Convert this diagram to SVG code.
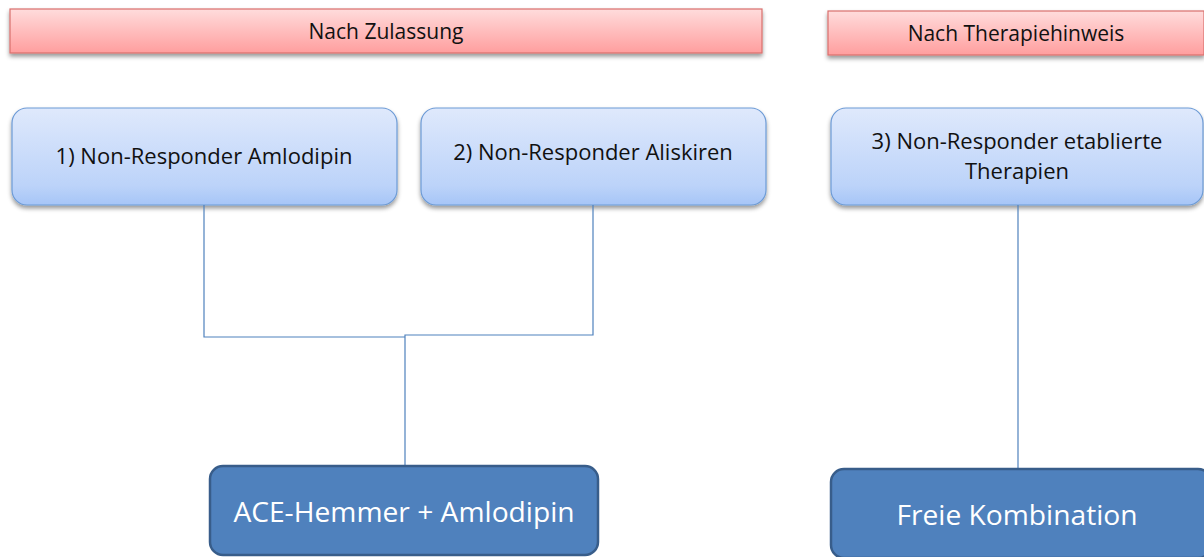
<svg xmlns="http://www.w3.org/2000/svg" width="1204" height="557" viewBox="0 0 1204 557">
<defs>
<linearGradient id="gRed" x1="0" y1="0" x2="0" y2="1">
<stop offset="0" stop-color="#ffdcdc"/>
<stop offset="1" stop-color="#ff9e9e"/>
</linearGradient>
<linearGradient id="gBlue" x1="0" y1="0" x2="0" y2="1">
<stop offset="0" stop-color="#dfe9fc"/>
<stop offset="0.8" stop-color="#bcd3f9"/>
<stop offset="1" stop-color="#a6c5f7"/>
</linearGradient>
<filter id="sh" x="-10%" y="-20%" width="120%" height="150%">
<feDropShadow dx="0" dy="3" stdDeviation="2" flood-color="#000" flood-opacity="0.4"/>
</filter>
</defs>
<style>
.hdr{fill:url(#gRed);stroke:#d9706d;stroke-width:1.2}
.lt{fill:url(#gBlue);stroke:#6d9bd6;stroke-width:1.2}
.dk{fill:#4f81bd;stroke:#385d8a;stroke-width:2.5}
.t{font-family:"Open Sans","Liberation Sans",sans-serif;text-anchor:middle}
.th{font-size:21px;fill:#111}
.tl{font-size:22px;fill:#111}
.tw{font-size:28.2px;fill:#fff}
.con{fill:none;stroke:#4f81bd;stroke-width:1.2}
</style>
<g id="hdr1"><rect class="hdr" x="10" y="9" width="752" height="44" filter="url(#sh)"/><text class="t th" x="386" y="39">Nach Zulassung</text></g>
<g id="hdr2"><rect class="hdr" x="828" y="11" width="376" height="44" filter="url(#sh)"/><text class="t th" x="1016" y="41">Nach Therapiehinweis</text></g>
<g id="n1"><rect class="lt" x="12" y="108" width="385" height="97" rx="15" filter="url(#sh)"/><text class="t tl" x="204" y="164">1) Non-Responder Amlodipin</text></g>
<g id="n2"><rect class="lt" x="421" y="108" width="345" height="97" rx="15" filter="url(#sh)"/><text class="t tl" x="593" y="160">2) Non-Responder Aliskiren</text></g>
<g id="n3"><rect class="lt" x="831" y="108" width="372" height="97" rx="15" filter="url(#sh)"/><text class="t tl" x="1017" y="149">3) Non-Responder etablierte</text><text class="t tl" x="1017" y="179">Therapien</text></g>
<g id="connectors">
<polyline class="con" points="204,205 204,337 405,337"/>
<polyline class="con" points="593,205 593,335 405,335 405,465"/>
<line class="con" x1="1018" y1="205" x2="1018" y2="468"/>
</g>
<g id="b1"><rect class="dk" x="210" y="466" width="388" height="89" rx="13"/><text class="t tw" x="404" y="522">ACE-Hemmer + Amlodipin</text></g>
<g id="b2"><rect class="dk" x="831" y="469" width="380" height="89" rx="13"/><text class="t tw" x="1017" y="525">Freie Kombination</text></g>
</svg>
